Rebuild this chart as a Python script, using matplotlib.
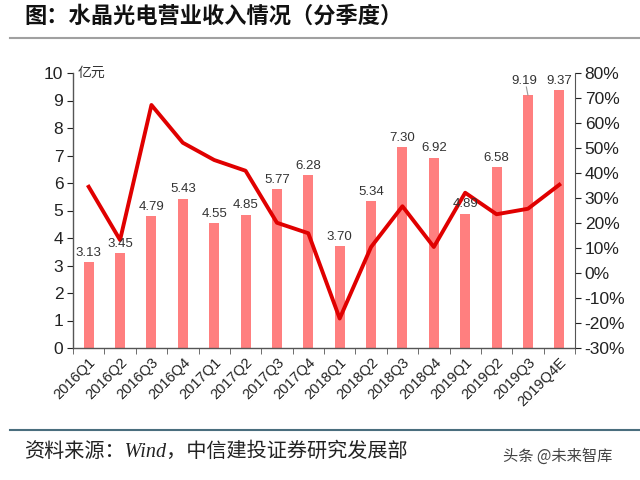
import matplotlib
matplotlib.use("Agg")
import matplotlib.pyplot as plt
from matplotlib.lines import Line2D
import numpy as np

plt.rcParams['font.family'] = ['Liberation Sans', 'Noto Sans CJK SC', 'DejaVu Sans']

quarters = ["2016Q1", "2016Q2", "2016Q3", "2016Q4", "2017Q1", "2017Q2", "2017Q3", "2017Q4",
            "2018Q1", "2018Q2", "2018Q3", "2018Q4", "2019Q1", "2019Q2", "2019Q3", "2019Q4E"]
revenue = [3.13, 3.45, 4.79, 5.43, 4.55, 4.85, 5.77, 6.28,
           3.70, 5.34, 7.30, 6.92, 4.89, 6.58, 9.19, 9.37]
growth = [34.5, 13.2, 67.2, 52.1, 45.2, 40.9, 20.1, 15.9,
          -18.2, 10.4, 26.7, 10.4, 32.1, 23.5, 25.7, 35.3]

bar_color = "#FF7F7F"
line_color = "#E00000"
text_color = "#333333"

fig = plt.figure(figsize=(6.4, 4.8), dpi=100)
ax = fig.add_axes([73/640, 1-348/480, (575-73)/640, (348-73)/480])
x = np.arange(len(quarters))
ax.bar(x, revenue, width=0.32, color=bar_color, zorder=2)

ax.set_xlim(-0.5, len(quarters) - 0.5)
ax.set_ylim(0, 10)
ax.set_yticks(range(0, 11))
ax.tick_params(axis="y", labelsize=12.5, colors="#222222", direction="out", length=4, pad=3)
ax.set_xticks(x)
ax.set_xticklabels(quarters, rotation=45, ha="right", rotation_mode="anchor", fontsize=10.5, color="#222222")
ax.tick_params(axis="x", length=0, pad=5)
ax.set_xticks(np.arange(-0.5, len(quarters), 1), minor=True)
ax.tick_params(axis="x", which="minor", length=4, direction="out", color="#555555")
ax.spines["top"].set_visible(False)
ax.spines["right"].set_visible(False)
for s in ["left", "bottom"]:
    ax.spines[s].set_color("#555555")
    ax.spines[s].set_linewidth(1.0)

ax.text(0.01, 1.0, "亿元", transform=ax.transAxes, fontsize=10, color=text_color,
        ha="left", va="center", family=['Noto Sans CJK SC'], style="italic")

ax2 = ax.twinx()
ax2.plot(x, growth, color=line_color, linewidth=2.8, zorder=4)
ax2.set_ylim(-30, 80)
ax2.set_yticks(range(-30, 81, 10))
ax2.set_yticklabels([f"{t}%" for t in range(-30, 81, 10)])
ax2.tick_params(axis="y", labelsize=12.5, colors="#222222", direction="out", length=4, pad=3)
ax2.spines["top"].set_visible(False)
ax2.spines["left"].set_visible(False)
ax2.spines["bottom"].set_visible(False)
ax2.spines["right"].set_color("#555555")

# data labels above the line
for xi, v in zip(x, revenue):
    lx, ly = xi, v + 0.12
    if quarters[xi] == "2019Q3":
        lx, ly = xi - 0.1, revenue[-1] + 0.12
        ax2.plot([xi - 0.05, xi], [ly, v], transform=ax.transData, color="#999999", linewidth=0.8, zorder=5)
    ax2.text(lx, ly, f"{v:.2f}", transform=ax.transData, ha="center", va="bottom",
             fontsize=9.5, color=text_color, zorder=6)

# title
fig.text(24/640, 1-16/480, "图：水晶光电营业收入情况（分季度）", fontsize=16, fontweight="bold",
         family=['Noto Sans CJK SC'], ha="left", va="center", color="#111111")
fig.add_artist(Line2D([10/640, 1.0], [1-38/480, 1-38/480], color="#A0A0A0", linewidth=1.5))

# footer
fig.add_artist(Line2D([10/640, 1.0], [1-430/480, 1-430/480], color="#4A6E7E", linewidth=1.5))
fig.text(24/640, 1-452/480, "资料来源：Wind，中信建投证券研究发展部", fontsize=14.5,
         family=['Liberation Serif', 'Noto Sans CJK SC'], style="italic",
         ha="left", va="center", color="#222222")
fig.text(612/640, 1-456/480, "头条 @未来智库", fontsize=11,
         family=['Noto Sans CJK SC'], ha="right", va="center", color="#444444")

fig.savefig("out.png", dpi=100)
